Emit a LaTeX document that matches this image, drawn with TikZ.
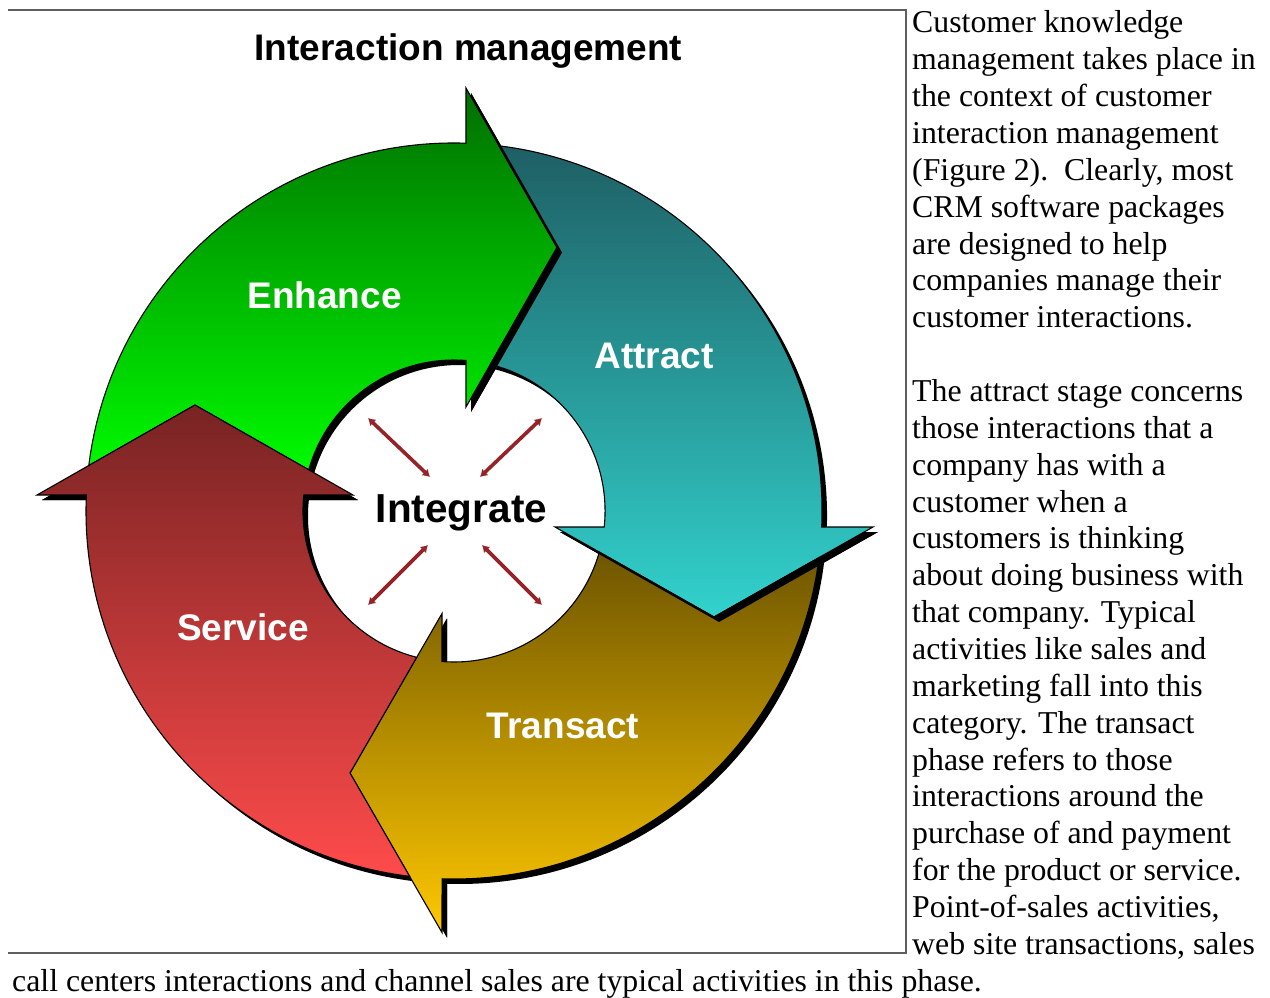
\documentclass[tikz,border=0pt]{standalone}
\usepackage{fontspec}
\setmainfont{Liberation Serif}
\newfontfamily\headfont{Liberation Sans}
\usetikzlibrary{arrows.meta}

% stage colours: dark at the top of each arrow, bright at the bottom
\definecolor{grnTop}{RGB}{0,110,0}
\definecolor{grnBot}{RGB}{0,250,0}
\definecolor{tealTop}{RGB}{30,95,100}
\definecolor{tealBot}{RGB}{50,210,205}
\definecolor{yelTop}{RGB}{110,85,0}
\definecolor{yelBot}{RGB}{255,200,0}
\definecolor{redTop}{RGB}{120,35,35}
\definecolor{redBot}{RGB}{255,75,75}
\definecolor{linkRed}{RGB}{150,35,40}
\definecolor{frameGray}{RGB}{95,95,95}

% ring: centre (454,-511), inner radius 151, outer radius 368
% each arrow's tail follows the edges of the previous arrow's head
\newcommand\pathEnhance{(88.8,-465.5) arc[start angle=-187.1, end angle=-271.87, radius=368]
  -- (466,-88) -- (557,-247.5) -- (466,-407) -- (466,-360.5)
  arc[start angle=-274.56, end angle=-195.83, radius=151] -- (195,-405) -- cycle}
\newcommand\pathAttract{(498.9,-145.8) arc[start angle=-277.0, end angle=-362.49, radius=368]
  -- (873,-527) -- (714,-617) -- (555,-527) -- (604.2,-527)
  arc[start angle=-366.08, end angle=-283.91, radius=151] -- (557,-247.5) -- cycle}
\newcommand\pathTransact{(819.1,-557.5) arc[start angle=-7.26, end angle=-91.87, radius=368]
  -- (442,-932.5) -- (350,-773) -- (442,-613.5) -- (442,-661.5)
  arc[start angle=-94.56, end angle=-15.79, radius=151] -- (714,-617) -- cycle}
\newcommand\pathService{(409.6,-876.3) arc[start angle=-96.93, end angle=-182.49, radius=368]
  -- (37,-495) -- (195,-405) -- (353,-495) -- (303.85,-495)
  arc[start angle=-186.08, end angle=-104.30, radius=151] -- (350,-773) -- cycle}

\newcommand\headEnhance{(466,-88) -- (557,-247.5) -- (466,-407) -- cycle}
\newcommand\headAttract{(555,-527) -- (714,-617) -- (873,-527) -- cycle}
\newcommand\headTransact{(442,-613.5) -- (350,-773) -- (442,-932.5) -- cycle}
\newcommand\headService{(37,-495) -- (195,-405) -- (353,-495) -- cycle}

% everything outside an arrow (counter-clockwise frame around the clockwise arrow)
\newcommand\outsideFrame{(-10,10) -- (-10,-1010) -- (1280,-1010) -- (1280,10) -- cycle}

\begin{document}
\begin{tikzpicture}[x=1pt,y=1pt,
  outline/.style={draw=black, line width=1.1},
  dropshade/.style={fill=black, shift={(5,-5)}},
  stagelabel/.style={font=\headfont\bfseries\fontsize{37}{40}\selectfont,
    text=white, inner sep=0, anchor=base},
  bodytext/.style={font=\fontsize{31.8}{36.85}\selectfont, inner sep=0, anchor=base west},
  linkarrow/.style={draw=linkRed, line width=3.6,
    {Latex[length=7,width=9]}-{Latex[length=7,width=9]}},
  framerule/.style={draw=frameGray, line width=2}]

\useasboundingbox (0,0) rectangle (1270,-998);
\fill[white] (0,0) rectangle (1270,-998);

% picture frame (top, right and bottom rules)
\coordinate (frameTL) at (8,-10);
\coordinate (frameTR) at (906,-10);
\coordinate (frameBR) at (906,-953);
\coordinate (frameBL) at (8,-953);
\draw[framerule] (frameTL) -- (frameTR) -- (frameBR) -- (frameBL);

% title
\node[font=\headfont\bfseries\fontsize{37}{40}\selectfont, inner sep=0, anchor=base]
  (title) at (468.5,-61) {Interaction management};

% drop shadows of the four arrows
\fill[dropshade] \pathEnhance;
\fill[dropshade] \pathAttract;
\fill[dropshade] \pathTransact;
\fill[dropshade] \pathService;

% the four shaded arrows
\path[outline, top color=grnTop, bottom color=grnBot] \pathEnhance;
\path[outline, top color=tealTop, bottom color=tealBot] \pathAttract;
\path[outline, top color=yelTop, bottom color=yelBot] \pathTransact;
\path[outline, top color=redTop, bottom color=redBot] \pathService;

% head shadows falling on the following arrow
\begin{scope}[even odd rule]
  \clip \outsideFrame \pathEnhance;
  \fill[dropshade] \headEnhance;
\end{scope}
\begin{scope}[even odd rule]
  \clip \outsideFrame \pathAttract;
  \fill[dropshade] \headAttract;
\end{scope}
\begin{scope}[even odd rule]
  \clip \outsideFrame \pathTransact;
  \fill[dropshade] \headTransact;
\end{scope}
\begin{scope}[even odd rule]
  \clip \outsideFrame \pathService;
  \fill[dropshade] \headService;
\end{scope}

% stage names
\node[stagelabel] (enhance) at (324.5,-308) {Enhance};
\node[stagelabel] (attract) at (654,-368) {Attract};
\node[stagelabel] (service) at (243,-640) {Service};
\node[stagelabel] (transact) at (563,-738) {Transact};

% centre
\node[font=\headfont\bfseries\fontsize{40.5}{44}\selectfont, inner sep=0, anchor=base]
  (integrate) at (461.5,-522) {Integrate};
\coordinate (ulOut) at (368,-418);
\coordinate (ulIn) at (430,-477);
\coordinate (urOut) at (542,-418);
\coordinate (urIn) at (480,-477);
\coordinate (llIn) at (428,-545);
\coordinate (llOut) at (368,-605);
\coordinate (lrIn) at (482,-545);
\coordinate (lrOut) at (542,-605);
\draw[linkarrow] (ulOut) -- (ulIn);
\draw[linkarrow] (urOut) -- (urIn);
\draw[linkarrow] (llIn) -- (llOut);
\draw[linkarrow] (lrIn) -- (lrOut);

% running text beside the figure
\node[bodytext] (p1) at (912,-33) {Customer knowledge};
\node[bodytext] (p2) at (912,-69.85) {management takes place in};
\node[bodytext] (p3) at (912,-106.7) {the context of customer};
\node[bodytext] (p4) at (912,-143.55) {interaction management};
\node[bodytext] (p5) at (912,-180.4) {(Figure 2).\ \ Clearly, most};
\node[bodytext] (p6) at (912,-217.25) {CRM software packages};
\node[bodytext] (p7) at (912,-254.1) {are designed to help};
\node[bodytext] (p8) at (912,-290.95) {companies manage their};
\node[bodytext] (p9) at (912,-327.8) {customer interactions.};
\node[bodytext] (q1) at (912,-401.5) {The attract stage concerns};
\node[bodytext] (q2) at (912,-438.35) {those interactions that a};
\node[bodytext] (q3) at (912,-475.2) {company has with a};
\node[bodytext] (q4) at (912,-512.05) {customer when a};
\node[bodytext] (q5) at (912,-548.9) {customers is thinking};
\node[bodytext] (q6) at (912,-585.75) {about doing business with};
\node[bodytext] (q7) at (912,-622.6) {that company. Typical};
\node[bodytext] (q8) at (912,-659.45) {activities like sales and};
\node[bodytext] (q9) at (912,-696.3) {marketing fall into this};
\node[bodytext] (q10) at (912,-733.15) {category. The transact};
\node[bodytext] (q11) at (912,-770) {phase refers to those};
\node[bodytext] (q12) at (912,-806.85) {interactions around the};
\node[bodytext] (q13) at (912,-843.7) {purchase of and payment};
\node[bodytext] (q14) at (912,-880.55) {for the product or service.};
\node[bodytext] (q15) at (912,-917.4) {Point-of-sales activities,};
\node[bodytext] (q16) at (912,-954.25) {web site transactions, sales};
\node[bodytext] (q17) at (12,-991.1) {call centers interactions and channel sales are typical activities in this phase.};
\end{tikzpicture}
\end{document}
